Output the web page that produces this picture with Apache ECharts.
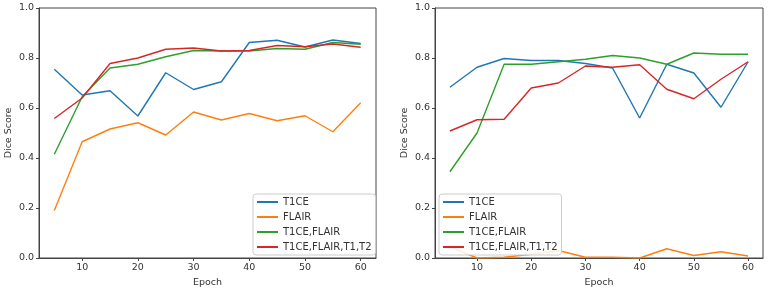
<!DOCTYPE html>
<html>
<head>
<meta charset="utf-8">
<script src="https://cdn.jsdelivr.net/npm/echarts@6/dist/echarts.min.js"></script>
<style>
  html, body { margin: 0; padding: 0; background: #fff; }
  #chart { width: 777px; height: 293px; }
</style>
</head>
<body>
<div id="chart"></div>
<script>
const epochs = [5, 10, 15, 20, 25, 30, 35, 40, 45, 50, 55, 60]
const xTicks = [10, 20, 30, 40, 50, 60]
const seriesNames = ["T1CE", "FLAIR", "T1CE,FLAIR", "T1CE,FLAIR,T1,T2"]
const colors = ["#1f77b4", "#ff7f0e", "#2ca02c", "#d62728"]

// left panel
const leftT1ce = [0.755, 0.652, 0.669, 0.568, 0.741, 0.674, 0.705, 0.862, 0.871, 0.844, 0.872, 0.858]
const leftFlair = [0.19, 0.465, 0.516, 0.541, 0.492, 0.584, 0.552, 0.578, 0.549, 0.569, 0.505, 0.621]
const leftT1ceFlair = [0.415, 0.645, 0.76, 0.775, 0.805, 0.83, 0.828, 0.828, 0.838, 0.835, 0.862, 0.855]
const leftAll = [0.558, 0.64, 0.778, 0.80, 0.835, 0.84, 0.828, 0.83, 0.85, 0.845, 0.856, 0.843]

// right panel
const rightT1ce = [0.683, 0.763, 0.798, 0.79, 0.79, 0.778, 0.76, 0.56, 0.775, 0.74, 0.603, 0.785]
const rightFlair = [0.045, 0.0, 0.003, 0.015, 0.03, 0.003, 0.003, 0.0, 0.037, 0.01, 0.025, 0.008]
const rightT1ceFlair = [0.345, 0.50, 0.775, 0.775, 0.785, 0.795, 0.81, 0.80, 0.775, 0.82, 0.815, 0.815]
const rightAll = [0.508, 0.553, 0.555, 0.68, 0.70, 0.768, 0.763, 0.773, 0.675, 0.637, 0.715, 0.785]

const font = "DejaVu Sans"
const pairs = (vals) => epochs.map((e, i) => [e, vals[i]])

const makeX = (idx) => ({
  type: "value",
  gridIndex: idx,
  min: 2.25,
  max: 62.75,
  name: "Epoch",
  nameLocation: "middle",
  nameGap: 20,
  nameTextStyle: { fontFamily: font, fontSize: 9.5, color: "#333" },
  axisLine: { lineStyle: { color: "#444" } },
  axisTick: { length: 3, customValues: xTicks, lineStyle: { color: "#444" } },
  axisLabel: { customValues: xTicks, fontFamily: font, fontSize: 9.5, color: "#333", margin: 5 },
  splitLine: { show: false },
})

const makeY = (idx) => ({
  type: "value",
  gridIndex: idx,
  min: 0,
  max: 1,
  interval: 0.2,
  name: "Dice Score",
  nameLocation: "middle",
  nameGap: 25,
  nameTextStyle: { fontFamily: font, fontSize: 9.5, color: "#333" },
  axisLine: { show: true, lineStyle: { color: "#444" } },
  axisTick: { show: true, length: 3, lineStyle: { color: "#444" } },
  axisLabel: { fontFamily: font, fontSize: 9.5, color: "#333", margin: 5, formatter: (v) => v.toFixed(1) },
  splitLine: { show: false },
})

const makeSeries = (idx, lists) =>
  lists.map((vals, i) => ({
    name: seriesNames[i],
    type: "line",
    xAxisIndex: idx,
    yAxisIndex: idx,
    data: pairs(vals),
    symbol: "none",
    lineStyle: { width: 1.4, color: colors[i] },
    itemStyle: { color: colors[i] },
    animation: false,
  }))

const makeLegend = (left) => ({
  orient: "vertical",
  left: left,
  top: 194,
  data: seriesNames,
  icon: "rect",
  itemWidth: 21,
  itemHeight: 2,
  itemGap: 5,
  padding: [3, 4, 3, 4],
  backgroundColor: "rgba(255,255,255,0.85)",
  borderColor: "#ccc",
  borderWidth: 1,
  borderRadius: 3,
  textStyle: { fontFamily: font, fontSize: 10, color: "#333" },
  selectedMode: false,
})

const chart = echarts.init(document.getElementById("chart"))
chart.setOption({
  animation: false,
  grid: [
    { left: 39, right: 401, top: 8, bottom: 35, show: true, borderColor: "#444", borderWidth: 1 },
    { left: 435, right: 14, top: 8, bottom: 35, show: true, borderColor: "#444", borderWidth: 1 },
  ],
  legend: [makeLegend(253), makeLegend(439)],
  xAxis: [makeX(0), makeX(1)],
  yAxis: [makeY(0), makeY(1)],
  series: [
    ...makeSeries(0, [leftT1ce, leftFlair, leftT1ceFlair, leftAll]),
    ...makeSeries(1, [rightT1ce, rightFlair, rightT1ceFlair, rightAll]),
  ],
})
</script>
</body>
</html>
